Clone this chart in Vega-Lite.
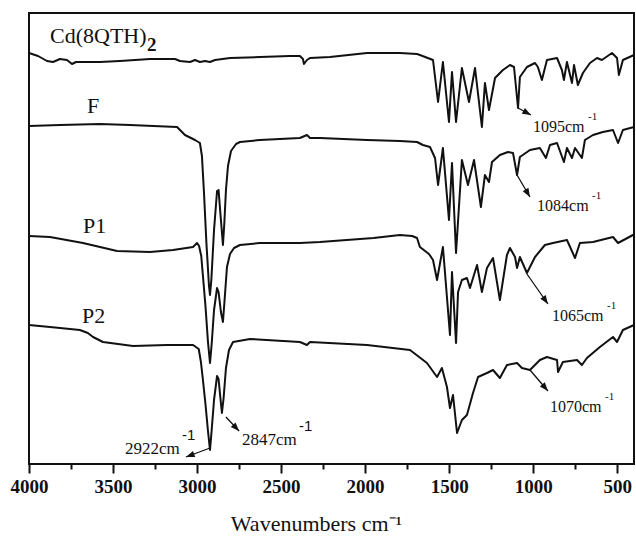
{
  "$schema": "https://vega.github.io/schema/vega-lite/v6.json",
  "width": 605,
  "height": 451,
  "autosize": "none",
  "padding": {"left": 29, "top": 13, "right": 2, "bottom": 77},
  "background": "white",
  "config": {
    "view": {"stroke": "#111", "strokeWidth": 2},
    "font": "Liberation Serif"
  },
  "datasets": {
    "spectra": [
      {"sample": "Cd(8QTH)2", "wavenumber": 4000, "signal": 41.1},
      {"sample": "Cd(8QTH)2", "wavenumber": 3946, "signal": 40.8},
      {"sample": "Cd(8QTH)2", "wavenumber": 3893, "signal": 40.3},
      {"sample": "Cd(8QTH)2", "wavenumber": 3857, "signal": 40.2},
      {"sample": "Cd(8QTH)2", "wavenumber": 3816, "signal": 40.5},
      {"sample": "Cd(8QTH)2", "wavenumber": 3774, "signal": 40.4},
      {"sample": "Cd(8QTH)2", "wavenumber": 3744, "signal": 40.0},
      {"sample": "Cd(8QTH)2", "wavenumber": 3720, "signal": 40.2},
      {"sample": "Cd(8QTH)2", "wavenumber": 3667, "signal": 40.2},
      {"sample": "Cd(8QTH)2", "wavenumber": 3578, "signal": 40.2},
      {"sample": "Cd(8QTH)2", "wavenumber": 3459, "signal": 40.3},
      {"sample": "Cd(8QTH)2", "wavenumber": 3280, "signal": 40.5},
      {"sample": "Cd(8QTH)2", "wavenumber": 3131, "signal": 40.5},
      {"sample": "Cd(8QTH)2", "wavenumber": 3102, "signal": 40.3},
      {"sample": "Cd(8QTH)2", "wavenumber": 3042, "signal": 40.2},
      {"sample": "Cd(8QTH)2", "wavenumber": 3012, "signal": 40.4},
      {"sample": "Cd(8QTH)2", "wavenumber": 2983, "signal": 40.2},
      {"sample": "Cd(8QTH)2", "wavenumber": 2953, "signal": 40.3},
      {"sample": "Cd(8QTH)2", "wavenumber": 2923, "signal": 40.2},
      {"sample": "Cd(8QTH)2", "wavenumber": 2893, "signal": 40.4},
      {"sample": "Cd(8QTH)2", "wavenumber": 2804, "signal": 40.6},
      {"sample": "Cd(8QTH)2", "wavenumber": 2626, "signal": 40.7},
      {"sample": "Cd(8QTH)2", "wavenumber": 2447, "signal": 40.8},
      {"sample": "Cd(8QTH)2", "wavenumber": 2388, "signal": 40.8},
      {"sample": "Cd(8QTH)2", "wavenumber": 2370, "signal": 40.5},
      {"sample": "Cd(8QTH)2", "wavenumber": 2364, "signal": 40.0},
      {"sample": "Cd(8QTH)2", "wavenumber": 2346, "signal": 40.4},
      {"sample": "Cd(8QTH)2", "wavenumber": 2328, "signal": 40.6},
      {"sample": "Cd(8QTH)2", "wavenumber": 2209, "signal": 40.7},
      {"sample": "Cd(8QTH)2", "wavenumber": 1989, "signal": 41.1},
      {"sample": "Cd(8QTH)2", "wavenumber": 1793, "signal": 41.1},
      {"sample": "Cd(8QTH)2", "wavenumber": 1691, "signal": 41.0},
      {"sample": "Cd(8QTH)2", "wavenumber": 1674, "signal": 40.9},
      {"sample": "Cd(8QTH)2", "wavenumber": 1596, "signal": 40.4},
      {"sample": "Cd(8QTH)2", "wavenumber": 1566, "signal": 36.2},
      {"sample": "Cd(8QTH)2", "wavenumber": 1537, "signal": 40.2},
      {"sample": "Cd(8QTH)2", "wavenumber": 1501, "signal": 34.2},
      {"sample": "Cd(8QTH)2", "wavenumber": 1483, "signal": 39.2},
      {"sample": "Cd(8QTH)2", "wavenumber": 1459, "signal": 34.2},
      {"sample": "Cd(8QTH)2", "wavenumber": 1424, "signal": 39.6},
      {"sample": "Cd(8QTH)2", "wavenumber": 1382, "signal": 36.2},
      {"sample": "Cd(8QTH)2", "wavenumber": 1346, "signal": 39.6},
      {"sample": "Cd(8QTH)2", "wavenumber": 1305, "signal": 33.7},
      {"sample": "Cd(8QTH)2", "wavenumber": 1287, "signal": 38.1},
      {"sample": "Cd(8QTH)2", "wavenumber": 1263, "signal": 35.4},
      {"sample": "Cd(8QTH)2", "wavenumber": 1227, "signal": 38.6},
      {"sample": "Cd(8QTH)2", "wavenumber": 1180, "signal": 39.4},
      {"sample": "Cd(8QTH)2", "wavenumber": 1138, "signal": 39.9},
      {"sample": "Cd(8QTH)2", "wavenumber": 1114, "signal": 39.7},
      {"sample": "Cd(8QTH)2", "wavenumber": 1090, "signal": 35.6},
      {"sample": "Cd(8QTH)2", "wavenumber": 1079, "signal": 38.7},
      {"sample": "Cd(8QTH)2", "wavenumber": 1037, "signal": 39.7},
      {"sample": "Cd(8QTH)2", "wavenumber": 989, "signal": 40.1},
      {"sample": "Cd(8QTH)2", "wavenumber": 972, "signal": 39.7},
      {"sample": "Cd(8QTH)2", "wavenumber": 948, "signal": 38.4},
      {"sample": "Cd(8QTH)2", "wavenumber": 918, "signal": 40.4},
      {"sample": "Cd(8QTH)2", "wavenumber": 858, "signal": 40.6},
      {"sample": "Cd(8QTH)2", "wavenumber": 829, "signal": 39.4},
      {"sample": "Cd(8QTH)2", "wavenumber": 817, "signal": 38.4},
      {"sample": "Cd(8QTH)2", "wavenumber": 799, "signal": 40.2},
      {"sample": "Cd(8QTH)2", "wavenumber": 769, "signal": 38.1},
      {"sample": "Cd(8QTH)2", "wavenumber": 757, "signal": 39.9},
      {"sample": "Cd(8QTH)2", "wavenumber": 734, "signal": 37.9},
      {"sample": "Cd(8QTH)2", "wavenumber": 704, "signal": 39.1},
      {"sample": "Cd(8QTH)2", "wavenumber": 662, "signal": 40.1},
      {"sample": "Cd(8QTH)2", "wavenumber": 620, "signal": 40.6},
      {"sample": "Cd(8QTH)2", "wavenumber": 591, "signal": 40.4},
      {"sample": "Cd(8QTH)2", "wavenumber": 531, "signal": 41.1},
      {"sample": "Cd(8QTH)2", "wavenumber": 501, "signal": 40.6},
      {"sample": "Cd(8QTH)2", "wavenumber": 490, "signal": 38.9},
      {"sample": "Cd(8QTH)2", "wavenumber": 466, "signal": 40.4},
      {"sample": "Cd(8QTH)2", "wavenumber": 400, "signal": 40.9},

      {"sample": "F", "wavenumber": 4000, "signal": 33.8},
      {"sample": "F", "wavenumber": 3816, "signal": 33.9},
      {"sample": "F", "wavenumber": 3578, "signal": 34.0},
      {"sample": "F", "wavenumber": 3399, "signal": 33.9},
      {"sample": "F", "wavenumber": 3119, "signal": 33.7},
      {"sample": "F", "wavenumber": 3072, "signal": 32.9},
      {"sample": "F", "wavenumber": 3012, "signal": 32.4},
      {"sample": "F", "wavenumber": 2983, "signal": 32.1},
      {"sample": "F", "wavenumber": 2971, "signal": 30.8},
      {"sample": "F", "wavenumber": 2959, "signal": 27.2},
      {"sample": "F", "wavenumber": 2944, "signal": 22.0},
      {"sample": "F", "wavenumber": 2929, "signal": 17.8},
      {"sample": "F", "wavenumber": 2923, "signal": 16.9},
      {"sample": "F", "wavenumber": 2915, "signal": 18.4},
      {"sample": "F", "wavenumber": 2899, "signal": 23.4},
      {"sample": "F", "wavenumber": 2881, "signal": 27.3},
      {"sample": "F", "wavenumber": 2872, "signal": 27.4},
      {"sample": "F", "wavenumber": 2858, "signal": 24.4},
      {"sample": "F", "wavenumber": 2846, "signal": 21.9},
      {"sample": "F", "wavenumber": 2838, "signal": 24.0},
      {"sample": "F", "wavenumber": 2828, "signal": 27.4},
      {"sample": "F", "wavenumber": 2816, "signal": 29.8},
      {"sample": "F", "wavenumber": 2798, "signal": 31.3},
      {"sample": "F", "wavenumber": 2768, "signal": 32.0},
      {"sample": "F", "wavenumber": 2745, "signal": 32.2},
      {"sample": "F", "wavenumber": 2626, "signal": 32.4},
      {"sample": "F", "wavenumber": 2388, "signal": 32.6},
      {"sample": "F", "wavenumber": 2346, "signal": 32.9},
      {"sample": "F", "wavenumber": 2328, "signal": 32.6},
      {"sample": "F", "wavenumber": 2269, "signal": 32.6},
      {"sample": "F", "wavenumber": 1989, "signal": 32.4},
      {"sample": "F", "wavenumber": 1793, "signal": 32.3},
      {"sample": "F", "wavenumber": 1691, "signal": 32.2},
      {"sample": "F", "wavenumber": 1656, "signal": 31.9},
      {"sample": "F", "wavenumber": 1614, "signal": 31.7},
      {"sample": "F", "wavenumber": 1584, "signal": 30.6},
      {"sample": "F", "wavenumber": 1566, "signal": 27.9},
      {"sample": "F", "wavenumber": 1537, "signal": 31.6},
      {"sample": "F", "wavenumber": 1501, "signal": 24.4},
      {"sample": "F", "wavenumber": 1483, "signal": 30.1},
      {"sample": "F", "wavenumber": 1459, "signal": 21.1},
      {"sample": "F", "wavenumber": 1424, "signal": 30.4},
      {"sample": "F", "wavenumber": 1388, "signal": 27.9},
      {"sample": "F", "wavenumber": 1352, "signal": 30.4},
      {"sample": "F", "wavenumber": 1311, "signal": 25.7},
      {"sample": "F", "wavenumber": 1287, "signal": 28.9},
      {"sample": "F", "wavenumber": 1263, "signal": 28.2},
      {"sample": "F", "wavenumber": 1245, "signal": 30.2},
      {"sample": "F", "wavenumber": 1198, "signal": 30.9},
      {"sample": "F", "wavenumber": 1150, "signal": 31.2},
      {"sample": "F", "wavenumber": 1120, "signal": 31.1},
      {"sample": "F", "wavenumber": 1096, "signal": 28.9},
      {"sample": "F", "wavenumber": 1079, "signal": 30.7},
      {"sample": "F", "wavenumber": 1019, "signal": 31.4},
      {"sample": "F", "wavenumber": 960, "signal": 31.6},
      {"sample": "F", "wavenumber": 924, "signal": 30.6},
      {"sample": "F", "wavenumber": 900, "signal": 31.9},
      {"sample": "F", "wavenumber": 858, "signal": 32.1},
      {"sample": "F", "wavenumber": 817, "signal": 30.2},
      {"sample": "F", "wavenumber": 799, "signal": 31.6},
      {"sample": "F", "wavenumber": 769, "signal": 30.6},
      {"sample": "F", "wavenumber": 751, "signal": 31.6},
      {"sample": "F", "wavenumber": 710, "signal": 30.6},
      {"sample": "F", "wavenumber": 692, "signal": 32.4},
      {"sample": "F", "wavenumber": 644, "signal": 32.9},
      {"sample": "F", "wavenumber": 585, "signal": 33.2},
      {"sample": "F", "wavenumber": 525, "signal": 33.4},
      {"sample": "F", "wavenumber": 495, "signal": 32.1},
      {"sample": "F", "wavenumber": 466, "signal": 33.4},
      {"sample": "F", "wavenumber": 400, "signal": 33.7},

      {"sample": "P1", "wavenumber": 4000, "signal": 22.8},
      {"sample": "P1", "wavenumber": 3875, "signal": 22.7},
      {"sample": "P1", "wavenumber": 3679, "signal": 22.1},
      {"sample": "P1", "wavenumber": 3476, "signal": 21.3},
      {"sample": "P1", "wavenumber": 3280, "signal": 21.2},
      {"sample": "P1", "wavenumber": 3143, "signal": 21.4},
      {"sample": "P1", "wavenumber": 3024, "signal": 21.7},
      {"sample": "P1", "wavenumber": 3000, "signal": 22.1},
      {"sample": "P1", "wavenumber": 2988, "signal": 21.8},
      {"sample": "P1", "wavenumber": 2975, "signal": 20.8},
      {"sample": "P1", "wavenumber": 2962, "signal": 18.2},
      {"sample": "P1", "wavenumber": 2950, "signal": 15.8},
      {"sample": "P1", "wavenumber": 2935, "signal": 12.2},
      {"sample": "P1", "wavenumber": 2923, "signal": 10.1},
      {"sample": "P1", "wavenumber": 2913, "signal": 12.0},
      {"sample": "P1", "wavenumber": 2899, "signal": 15.4},
      {"sample": "P1", "wavenumber": 2881, "signal": 17.6},
      {"sample": "P1", "wavenumber": 2872, "signal": 17.2},
      {"sample": "P1", "wavenumber": 2858, "signal": 15.2},
      {"sample": "P1", "wavenumber": 2846, "signal": 14.2},
      {"sample": "P1", "wavenumber": 2837, "signal": 16.2},
      {"sample": "P1", "wavenumber": 2822, "signal": 19.7},
      {"sample": "P1", "wavenumber": 2804, "signal": 21.0},
      {"sample": "P1", "wavenumber": 2780, "signal": 21.6},
      {"sample": "P1", "wavenumber": 2745, "signal": 21.9},
      {"sample": "P1", "wavenumber": 2626, "signal": 22.1},
      {"sample": "P1", "wavenumber": 2388, "signal": 22.1},
      {"sample": "P1", "wavenumber": 2269, "signal": 22.2},
      {"sample": "P1", "wavenumber": 1950, "signal": 22.6},
      {"sample": "P1", "wavenumber": 1793, "signal": 22.9},
      {"sample": "P1", "wavenumber": 1720, "signal": 22.8},
      {"sample": "P1", "wavenumber": 1691, "signal": 22.6},
      {"sample": "P1", "wavenumber": 1674, "signal": 21.7},
      {"sample": "P1", "wavenumber": 1620, "signal": 21.0},
      {"sample": "P1", "wavenumber": 1596, "signal": 20.4},
      {"sample": "P1", "wavenumber": 1572, "signal": 18.4},
      {"sample": "P1", "wavenumber": 1537, "signal": 21.7},
      {"sample": "P1", "wavenumber": 1495, "signal": 12.9},
      {"sample": "P1", "wavenumber": 1483, "signal": 19.2},
      {"sample": "P1", "wavenumber": 1459, "signal": 12.1},
      {"sample": "P1", "wavenumber": 1447, "signal": 17.2},
      {"sample": "P1", "wavenumber": 1424, "signal": 18.4},
      {"sample": "P1", "wavenumber": 1394, "signal": 18.6},
      {"sample": "P1", "wavenumber": 1376, "signal": 17.6},
      {"sample": "P1", "wavenumber": 1334, "signal": 19.9},
      {"sample": "P1", "wavenumber": 1305, "signal": 17.2},
      {"sample": "P1", "wavenumber": 1275, "signal": 19.6},
      {"sample": "P1", "wavenumber": 1239, "signal": 20.6},
      {"sample": "P1", "wavenumber": 1198, "signal": 16.4},
      {"sample": "P1", "wavenumber": 1156, "signal": 20.9},
      {"sample": "P1", "wavenumber": 1138, "signal": 21.6},
      {"sample": "P1", "wavenumber": 1108, "signal": 20.7},
      {"sample": "P1", "wavenumber": 1096, "signal": 19.6},
      {"sample": "P1", "wavenumber": 1079, "signal": 20.7},
      {"sample": "P1", "wavenumber": 1037, "signal": 19.1},
      {"sample": "P1", "wavenumber": 989, "signal": 20.7},
      {"sample": "P1", "wavenumber": 930, "signal": 21.9},
      {"sample": "P1", "wavenumber": 882, "signal": 22.1},
      {"sample": "P1", "wavenumber": 799, "signal": 22.4},
      {"sample": "P1", "wavenumber": 751, "signal": 20.6},
      {"sample": "P1", "wavenumber": 722, "signal": 22.1},
      {"sample": "P1", "wavenumber": 644, "signal": 22.2},
      {"sample": "P1", "wavenumber": 525, "signal": 22.7},
      {"sample": "P1", "wavenumber": 495, "signal": 22.1},
      {"sample": "P1", "wavenumber": 406, "signal": 22.9},
      {"sample": "P1", "wavenumber": 400, "signal": 22.9},

      {"sample": "P2", "wavenumber": 4000, "signal": 13.9},
      {"sample": "P2", "wavenumber": 3875, "signal": 13.7},
      {"sample": "P2", "wavenumber": 3697, "signal": 13.4},
      {"sample": "P2", "wavenumber": 3650, "signal": 13.1},
      {"sample": "P2", "wavenumber": 3619, "signal": 12.7},
      {"sample": "P2", "wavenumber": 3560, "signal": 12.2},
      {"sample": "P2", "wavenumber": 3381, "signal": 11.8},
      {"sample": "P2", "wavenumber": 3179, "signal": 11.9},
      {"sample": "P2", "wavenumber": 3024, "signal": 11.9},
      {"sample": "P2", "wavenumber": 2990, "signal": 11.5},
      {"sample": "P2", "wavenumber": 2977, "signal": 10.2},
      {"sample": "P2", "wavenumber": 2965, "signal": 8.4},
      {"sample": "P2", "wavenumber": 2950, "signal": 6.0},
      {"sample": "P2", "wavenumber": 2935, "signal": 3.3},
      {"sample": "P2", "wavenumber": 2923, "signal": 1.4},
      {"sample": "P2", "wavenumber": 2913, "signal": 3.4},
      {"sample": "P2", "wavenumber": 2899, "signal": 6.4},
      {"sample": "P2", "wavenumber": 2881, "signal": 8.8},
      {"sample": "P2", "wavenumber": 2872, "signal": 8.5},
      {"sample": "P2", "wavenumber": 2860, "signal": 6.4},
      {"sample": "P2", "wavenumber": 2852, "signal": 5.1},
      {"sample": "P2", "wavenumber": 2842, "signal": 6.6},
      {"sample": "P2", "wavenumber": 2828, "signal": 9.6},
      {"sample": "P2", "wavenumber": 2810, "signal": 11.4},
      {"sample": "P2", "wavenumber": 2786, "signal": 12.2},
      {"sample": "P2", "wavenumber": 2685, "signal": 12.5},
      {"sample": "P2", "wavenumber": 2388, "signal": 12.2},
      {"sample": "P2", "wavenumber": 2346, "signal": 11.9},
      {"sample": "P2", "wavenumber": 2328, "signal": 12.2},
      {"sample": "P2", "wavenumber": 1989, "signal": 11.9},
      {"sample": "P2", "wavenumber": 1733, "signal": 11.4},
      {"sample": "P2", "wavenumber": 1632, "signal": 10.1},
      {"sample": "P2", "wavenumber": 1572, "signal": 8.7},
      {"sample": "P2", "wavenumber": 1543, "signal": 9.6},
      {"sample": "P2", "wavenumber": 1513, "signal": 7.7},
      {"sample": "P2", "wavenumber": 1495, "signal": 5.6},
      {"sample": "P2", "wavenumber": 1477, "signal": 6.9},
      {"sample": "P2", "wavenumber": 1453, "signal": 3.1},
      {"sample": "P2", "wavenumber": 1424, "signal": 4.4},
      {"sample": "P2", "wavenumber": 1394, "signal": 4.9},
      {"sample": "P2", "wavenumber": 1358, "signal": 7.1},
      {"sample": "P2", "wavenumber": 1328, "signal": 8.7},
      {"sample": "P2", "wavenumber": 1275, "signal": 9.1},
      {"sample": "P2", "wavenumber": 1239, "signal": 9.4},
      {"sample": "P2", "wavenumber": 1198, "signal": 8.6},
      {"sample": "P2", "wavenumber": 1156, "signal": 9.9},
      {"sample": "P2", "wavenumber": 1096, "signal": 10.1},
      {"sample": "P2", "wavenumber": 1067, "signal": 9.6},
      {"sample": "P2", "wavenumber": 1019, "signal": 9.4},
      {"sample": "P2", "wavenumber": 960, "signal": 10.4},
      {"sample": "P2", "wavenumber": 918, "signal": 10.7},
      {"sample": "P2", "wavenumber": 858, "signal": 10.4},
      {"sample": "P2", "wavenumber": 852, "signal": 9.2},
      {"sample": "P2", "wavenumber": 823, "signal": 10.2},
      {"sample": "P2", "wavenumber": 739, "signal": 10.4},
      {"sample": "P2", "wavenumber": 710, "signal": 9.9},
      {"sample": "P2", "wavenumber": 680, "signal": 10.6},
      {"sample": "P2", "wavenumber": 603, "signal": 11.7},
      {"sample": "P2", "wavenumber": 525, "signal": 12.7},
      {"sample": "P2", "wavenumber": 501, "signal": 12.2},
      {"sample": "P2", "wavenumber": 466, "signal": 13.4},
      {"sample": "P2", "wavenumber": 400, "signal": 13.9}
    ],
    "arrows": [
      {"fromWavenumber": 1090, "fromSignal": 35.6, "toWavenumber": 1013, "toSignal": 34.9},
      {"fromWavenumber": 1096, "fromSignal": 28.9, "toWavenumber": 1019, "toSignal": 26.7},
      {"fromWavenumber": 1037, "fromSignal": 19.0, "toWavenumber": 912, "toSignal": 16.0},
      {"fromWavenumber": 1019, "fromSignal": 9.4, "toWavenumber": 912, "toSignal": 7.3},
      {"fromWavenumber": 2923, "fromSignal": 1.6, "toWavenumber": 3066, "toSignal": 0.7},
      {"fromWavenumber": 2828, "fromSignal": 4.7, "toWavenumber": 2750, "toSignal": 3.3}
    ]
  },
  "layer": [
    {
      "data": {"name": "spectra"},
      "mark": {"type": "line", "color": "#111", "strokeWidth": 2, "strokeJoin": "round"},
      "encoding": {
        "x": {
          "field": "wavenumber",
          "type": "quantitative",
          "scale": {"domain": [400, 4000], "reverse": true, "nice": false, "zero": false},
          "axis": {
            "values": [4000, 3750, 3500, 3250, 3000, 2750, 2500, 2250, 2000, 1750, 1500, 1250, 1000, 750, 500],
            "format": "d",
            "labelExpr": "datum.value % 500 === 0 ? datum.label : ''",
            "tickSize": {"condition": {"test": "datum.value % 500 === 0", "value": 9}, "value": 5},
            "tickColor": "#111",
            "tickWidth": 2,
            "domain": false,
            "grid": false,
            "labelFont": "Liberation Serif",
            "labelFontWeight": "bold",
            "labelFontSize": 19,
            "labelColor": "#111",
            "labelPadding": 4,
            "labelFlush": false,
            "labelOverlap": false,
            "title": "Wavenumbers cm⁻¹",
            "titleFont": "Liberation Serif",
            "titleFontWeight": "normal",
            "titleFontSize": 22,
            "titleColor": "#111",
            "titleAlign": "center",
            "titleBaseline": "alphabetic",
            "titleX": 287,
            "titleY": 66
          }
        },
        "y": {
          "field": "signal",
          "type": "quantitative",
          "scale": {"domain": [0, 45.1], "nice": false, "zero": false},
          "axis": null
        },
        "detail": {"field": "sample"}
      }
    },
    {
      "data": {"name": "arrows"},
      "mark": {"type": "rule", "color": "#111", "strokeWidth": 1.3},
      "encoding": {
        "x": {"field": "fromWavenumber", "type": "quantitative"},
        "x2": {"field": "toWavenumber"},
        "y": {"field": "fromSignal", "type": "quantitative"},
        "y2": {"field": "toSignal"}
      }
    },
    {
      "data": {"name": "arrows"},
      "transform": [
        {"calculate": "(atan2((datum.fromWavenumber - datum.toWavenumber) / 5.95, (datum.toSignal - datum.fromSignal) * 10) * 180 / PI + 360) % 360", "as": "heading"}
      ],
      "mark": {"type": "point", "shape": "M0,0L0.38,1L-0.38,1Z", "filled": true, "color": "#111", "opacity": 1, "size": 300},
      "encoding": {
        "x": {"field": "toWavenumber", "type": "quantitative"},
        "y": {"field": "toSignal", "type": "quantitative"},
        "angle": {"field": "heading", "type": "quantitative", "scale": null}
      }
    },
    {
      "data": {"values": [
        {"label": "Cd(8QTH)", "wavenumber": 3875, "signal": 42.1},
        {"label": "F", "wavenumber": 3655, "signal": 35.1},
        {"label": "P1", "wavenumber": 3679, "signal": 23.1},
        {"label": "P2", "wavenumber": 3685, "signal": 14.1}
      ]},
      "mark": {"type": "text", "align": "left", "baseline": "alphabetic", "font": "Liberation Serif", "fontSize": 22, "color": "#111"},
      "encoding": {
        "x": {"field": "wavenumber", "type": "quantitative"},
        "y": {"field": "signal", "type": "quantitative"},
        "text": {"field": "label"}
      }
    },
    {
      "data": {"values": [
        {"label": "2", "wavenumber": 3875, "signal": 42.1}
      ]},
      "mark": {"type": "text", "align": "left", "baseline": "alphabetic", "font": "Liberation Serif", "fontSize": 19, "fontWeight": "bold", "color": "#111", "dx": 97, "dy": 8},
      "encoding": {
        "x": {"field": "wavenumber", "type": "quantitative"},
        "y": {"field": "signal", "type": "quantitative"},
        "text": {"field": "label"}
      }
    },
    {
      "data": {"values": [
        {"label": "1095cm", "wavenumber": 1001, "signal": 33.2},
        {"label": "1084cm", "wavenumber": 977, "signal": 25.3},
        {"label": "1065cm", "wavenumber": 888, "signal": 14.3},
        {"label": "1070cm", "wavenumber": 900, "signal": 5.2}
      ]},
      "layer": [
        {
          "mark": {"type": "text", "align": "left", "baseline": "alphabetic", "font": "Liberation Serif", "fontSize": 16, "color": "#111"},
          "encoding": {
            "x": {"field": "wavenumber", "type": "quantitative"},
            "y": {"field": "signal", "type": "quantitative"},
            "text": {"field": "label"}
          }
        },
        {
          "mark": {"type": "text", "align": "left", "baseline": "alphabetic", "font": "Liberation Serif", "fontSize": 11, "color": "#111", "dx": 55, "dy": -12, "text": "-1"},
          "encoding": {
            "x": {"field": "wavenumber", "type": "quantitative"},
            "y": {"field": "signal", "type": "quantitative"}
          }
        }
      ]
    },
    {
      "data": {"values": [
        {"label": "2922cm", "wavenumber": 3429, "signal": 1.0},
        {"label": "2847cm", "wavenumber": 2733, "signal": 1.9}
      ]},
      "layer": [
        {
          "mark": {"type": "text", "align": "left", "baseline": "alphabetic", "font": "Liberation Serif", "fontSize": 17, "color": "#111"},
          "encoding": {
            "x": {"field": "wavenumber", "type": "quantitative"},
            "y": {"field": "signal", "type": "quantitative"},
            "text": {"field": "label"}
          }
        },
        {
          "mark": {"type": "text", "align": "left", "baseline": "alphabetic", "font": "Liberation Sans", "fontSize": 15, "color": "#111", "dx": 57, "dy": -14, "text": "-1"},
          "encoding": {
            "x": {"field": "wavenumber", "type": "quantitative"},
            "y": {"field": "signal", "type": "quantitative"}
          }
        }
      ]
    }
  ]
}
